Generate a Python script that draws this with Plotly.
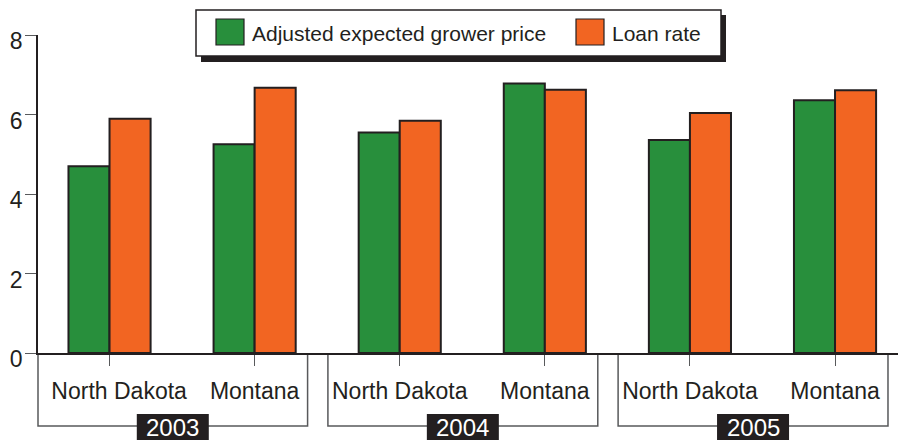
import plotly.graph_objects as go

# ---------------- data ----------------
years = ["2003", "2004", "2005"]
states = ["North Dakota", "Montana"]
series_names = ["Adjusted expected grower price", "Loan rate"]
grower_price = [4.70, 5.25, 5.55, 6.78, 5.36, 6.36]
loan_rate = [5.89, 6.67, 5.84, 6.62, 6.04, 6.61]
y_ticks = [0, 2, 4, 6, 8]

# ---------------- style ----------------
GREEN = "#288F3C"
ORANGE = "#F26522"
INK = "#231F20"
GRAY = "#58595B"
FONT = "Liberation Sans, Arial, Helvetica, sans-serif"

W, H = 898, 440
L, R, T, B = 38, 0, 35, 87
PW, PH = W - L - R, H - T - B
XR = [-0.493, 5.434]


def px2x(px):
    return (px - L) / PW


def py2y(py):
    return (T + PH - py) / PH


def d2x(v):
    return (v - XR[0]) / (XR[1] - XR[0])


xs = list(range(len(years) * len(states)))
ticktext = [s for _ in years for s in states]
# first label is nudged right in the original so it clears the y axis
ticktext[0] = "\u00a0\u00a0\u00a0" + ticktext[0]

fig = go.Figure()
fig.add_trace(go.Bar(
    x=xs, y=grower_price, name=series_names[0],
    marker=dict(color=GREEN, line=dict(color=INK, width=2)),
    showlegend=False,
))
fig.add_trace(go.Bar(
    x=xs, y=loan_rate, name=series_names[1],
    marker=dict(color=ORANGE, line=dict(color=INK, width=2)),
    showlegend=False,
))

shapes = []
annotations = []

# group brackets with year boxes
yb = py2y(426)
for g, yr in enumerate(years):
    first = g * len(states)
    last = first + len(states) - 1
    x0 = max(d2x(first - 0.495), 0)
    x1 = d2x(last + 0.365)
    shapes.append(dict(
        type="path", xref="paper", yref="paper",
        path=f"M {x0},0 L {x0},{yb} L {x1},{yb} L {x1},0",
        line=dict(color=GRAY, width=1.5), layer="below",
    ))
    xc = (x0 + x1) / 2
    half = 36 / PW
    shapes.append(dict(
        type="rect", xref="paper", yref="paper",
        x0=xc - half, x1=xc + half, y0=py2y(445), y1=py2y(414),
        fillcolor=INK, line=dict(width=0), layer="above",
    ))
    annotations.append(dict(
        text=yr, xref="paper", yref="paper", x=xc, y=py2y(427),
        xanchor="center", yanchor="middle", showarrow=False,
        font=dict(family=FONT, size=24, color="white"),
    ))

# manual legend with drop shadow
shapes.append(dict(
    type="rect", xref="paper", yref="paper",
    x0=px2x(201), x1=px2x(726), y0=py2y(62), y1=py2y(15),
    fillcolor=INK, line=dict(width=0), layer="above",
))
shapes.append(dict(
    type="rect", xref="paper", yref="paper",
    x0=px2x(196), x1=px2x(721), y0=py2y(56), y1=py2y(10),
    fillcolor="white", line=dict(color=INK, width=1.5), layer="above",
))
for color, name, sx, tx in [(GREEN, series_names[0], 216, 250),
                            (ORANGE, series_names[1], 576, 610)]:
    shapes.append(dict(
        type="rect", xref="paper", yref="paper",
        x0=px2x(sx), x1=px2x(sx + 28), y0=py2y(45), y1=py2y(19),
        fillcolor=color, line=dict(color=INK, width=1.2), layer="above",
    ))
    annotations.append(dict(
        text=name, xref="paper", yref="paper", x=px2x(tx), y=py2y(33),
        xanchor="left", yanchor="middle", showarrow=False,
        font=dict(family=FONT, size=21, color=INK),
    ))

fig.update_layout(
    width=W, height=H,
    margin=dict(l=L, r=R, t=T, b=B, pad=0),
    paper_bgcolor="white", plot_bgcolor="white",
    barmode="group", bargap=0.434, bargroupgap=0,
    font=dict(family=FONT, color=INK),
    shapes=shapes, annotations=annotations,
    xaxis=dict(
        range=XR, tickmode="array", tickvals=xs, ticktext=ticktext,
        showgrid=False, zeroline=False, showline=True,
        linecolor=INK, linewidth=2,
        ticks="outside", ticklen=11, tickwidth=1, tickcolor=GRAY,
        tickfont=dict(family=FONT, size=23, color=INK),
        ticklabelstandoff=5,
    ),
    yaxis=dict(
        range=[0, 8], tickmode="array", tickvals=y_ticks,
        showgrid=False, zeroline=False, showline=True,
        linecolor=INK, linewidth=1.5,
        ticks="outside", ticklen=11, tickwidth=1, tickcolor=GRAY,
        tickfont=dict(family=FONT, size=23, color=INK),
        ticklabelstandoff=-2, ticklabelshift=6,
    ),
)

fig.write_html("out.html", config={"displayModeBar": False})
